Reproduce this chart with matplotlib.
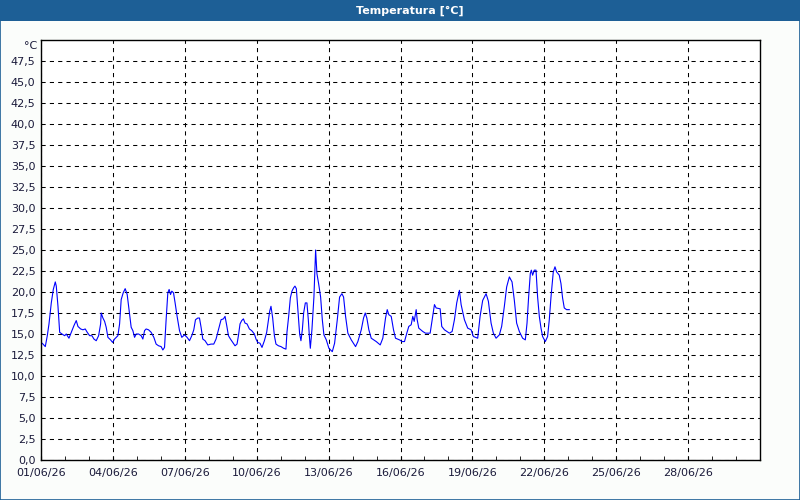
import numpy as np
import matplotlib.pyplot as plt
from matplotlib.patches import Rectangle
from matplotlib.ticker import FixedLocator, MultipleLocator

# hours since 01/06/26 00:00 and temperature in °C
hours = [0, 2, 4.3, 6.3, 8, 10.3, 12.3, 14.3, 15.3, 17, 18.7, 21, 23.7, 25.3, 28, 30.3,
         33, 35.3, 37, 39.7, 42, 44.3, 46.3, 48.7, 51, 53, 55.3, 57.7, 59.7, 60.3, 62,
         63.7, 65.3, 67, 69.7, 71.7, 73.7, 77, 78.7, 80.3, 82.3, 84.3, 86.3, 88.7, 90.3,
         92, 93.7, 95.3, 97.7, 100.3, 102, 103.7, 105.3, 107.7, 110.3, 113, 115.3, 117.7,
         120.3, 122, 123.7, 125.3, 127, 128.3, 129.7, 131, 132.7, 134.3, 136.3, 138.7,
         141, 143.7, 146.3, 148.7, 151, 153, 154.7, 157, 158.7, 160.3, 162, 164.3, 167,
         170.3, 173, 175.3, 178.7, 180.3, 182.7, 184.3, 186, 187.7, 189.7, 192, 194.3,
         196.3, 197.7, 199.3, 201, 202.7, 204.3, 206.3, 208.7, 211, 213.7, 215.3, 217,
         219.3, 221.3, 223.7, 226, 227.7, 229, 230.3, 232, 233.7, 235.3, 237.7, 240.3,
         243, 245.3, 246.3, 248, 249.7, 251.3, 253, 254.3, 255.7, 257, 258, 259, 260.3,
         261.7, 263, 264.7, 266.3, 267.7, 268.7, 269.7, 271.3, 273.3, 275, 276.3, 278,
         280, 281.7, 283.3, 285.7, 288.3, 291.7, 294, 296.7, 299, 301.3, 303, 305, 307.3,
         310.7, 315, 317.3, 320.7, 323, 324.7, 326.3, 328.3, 330.7, 335.7, 339.7, 342.3,
         345, 346.7, 348.3, 350.7, 353, 355, 359, 361.7, 364, 366.3, 368.3, 370.7, 372.3,
         373.7, 375.7, 376.7, 378.3, 382.3, 385, 389.7, 391.7, 394, 395.7, 399.7, 401.3,
         404, 409, 411.7, 414, 416.3, 419, 420.7, 424, 427.3, 430.7, 433, 437.3, 439.7,
         442.3, 445.7, 448, 450.7, 453, 455.7, 459, 461.3, 464, 466.3, 469, 471.7, 474,
         476.3, 479, 482.3, 485, 486.7, 488.3, 490, 491, 492.3, 494, 495.7, 497.3, 499,
         500.7, 502.3, 505, 507.3, 509, 510.7, 513, 514.7, 516.3, 519, 520.7, 522.3, 524,
         526.3, 529]
temps = [14.0, 13.8, 13.5, 14.8, 16.2, 18.7, 20.3, 21.2, 20.7, 18.3, 15.2, 15.0, 14.8, 15.0,
         14.5, 15.2, 16.0, 16.6, 15.9, 15.6, 15.5, 15.6, 15.2, 14.8, 14.8, 14.4, 14.2, 14.8,
         16.2, 17.5, 16.9, 16.5, 15.8, 14.6, 14.3, 14.0, 14.4, 14.8, 16.2, 19.1, 19.9, 20.4,
         19.7, 17.3, 15.8, 15.4, 14.6, 15.0, 15.0, 14.8, 14.4, 15.4, 15.6, 15.5, 15.2, 14.6,
         13.8, 13.6, 13.5, 13.1, 13.4, 16.7, 19.9, 20.3, 19.7, 20.1, 19.9, 18.7, 17.1, 15.4,
         14.6, 14.9, 14.6, 14.2, 14.8, 15.5, 16.7, 16.9, 16.9, 15.8, 14.4, 14.2, 13.7, 13.8,
         13.8, 14.4, 16.0, 16.7, 16.8, 17.1, 16.0, 14.8, 14.4, 14.0, 13.6, 13.8, 14.8, 16.2,
         16.6, 16.8, 16.3, 16.2, 15.6, 15.4, 15.0, 14.4, 14.0, 13.9, 13.4, 14.2, 15.2, 16.6,
         17.7, 18.3, 16.9, 14.8, 13.8, 13.6, 13.5, 13.3, 13.2, 15.2, 17.1, 19.3, 20.1, 20.5,
         20.7, 20.4, 18.3, 16.7, 15.0, 14.2, 15.5, 17.5, 18.7, 18.7, 16.7, 14.8, 13.3, 15.5,
         19.4, 25.0, 22.2, 21.0, 19.4, 16.7, 14.9, 14.3, 13.3, 12.9, 13.9, 16.7, 19.4, 19.8,
         19.4, 17.1, 15.1, 14.3, 13.5, 14.1, 15.5, 16.9, 17.5, 16.9, 15.5, 14.5, 14.1, 13.7,
         14.5, 16.9, 17.9, 17.3, 17.1, 15.5, 14.5, 14.3, 14.1, 14.1, 15.1, 15.9, 16.1, 17.1,
         16.5, 17.9, 16.7, 15.7, 15.3, 15.1, 15.1, 16.7, 18.5, 18.1, 18.0, 15.9, 15.5, 15.1,
         15.3, 16.7, 18.7, 20.2, 18.5, 16.7, 15.7, 15.5, 14.7, 14.5, 17.1, 19.0, 19.8, 18.9,
         16.3, 15.1, 14.5, 14.9, 15.9, 18.3, 20.6, 21.8, 21.2, 19.0, 16.3, 15.3, 14.5, 14.3,
         16.3, 19.4, 22.2, 22.6, 22.0, 22.6, 22.6, 19.4, 17.1, 15.7, 14.7, 14.1, 14.7, 16.7,
         19.4, 22.4, 23.0, 22.4, 22.0, 21.0, 19.3, 18.1, 17.9, 17.9]

x_ticks = [0, 3, 6, 9, 12, 15, 18, 21, 24, 27]
x_labels = ['01/06/26', '04/06/26', '07/06/26', '10/06/26', '13/06/26',
            '16/06/26', '19/06/26', '22/06/26', '25/06/26', '28/06/26']
y_ticks = np.arange(0, 50, 2.5)
y_labels = [f'{v:.1f}'.replace('.', ',') for v in y_ticks]

bar_col = '#1d5f96'
bg = '#fbfdfb'

fig = plt.figure(figsize=(8, 5), dpi=100, facecolor=bg)

# title bar and window border
fig.patches.append(Rectangle((0, 0.958), 1, 0.042, transform=fig.transFigure,
                             facecolor=bar_col, edgecolor='none', zorder=0))
fig.patches.append(Rectangle((0.0006, 0.001), 0.9988, 0.998, transform=fig.transFigure,
                             facecolor='none', edgecolor=bar_col, lw=1.2, zorder=5))
fig.text(0.5125, 0.979, 'Temperatura [°C]', color='white', fontsize=8, fontweight='bold',
         ha='center', va='center')

ax = fig.add_axes([0.05125, 0.08, 0.89875, 0.84])
ax.set_facecolor('white')
days = np.array(hours) / 24
ax.plot(days, temps, color='#0000ff', lw=0.8)

ax.set_xlim(0, 30)
ax.set_ylim(0, 50)
ax.xaxis.set_major_locator(FixedLocator(x_ticks))
ax.xaxis.set_minor_locator(MultipleLocator(1))
ax.set_xticklabels(x_labels)
ax.set_yticks(y_ticks)
ax.set_yticklabels(y_labels)
ax.grid(True, which='major', color='black', ls=(0, (4, 4)), lw=0.75)
ax.tick_params(axis='x', which='both', direction='in', length=3, labelsize=8,
               pad=6, colors='black', labelcolor='#1a1a3a')
ax.tick_params(axis='y', length=0, labelsize=8, pad=4, labelcolor='#1a1a3a')
for s in ax.spines.values():
    s.set_color('black')
    s.set_linewidth(1)

fig.text(0.046, 0.908, '°C', fontsize=8, ha='right', va='center', color='#1a1a3a')

fig.savefig('out.png', dpi=100, facecolor=bg)
